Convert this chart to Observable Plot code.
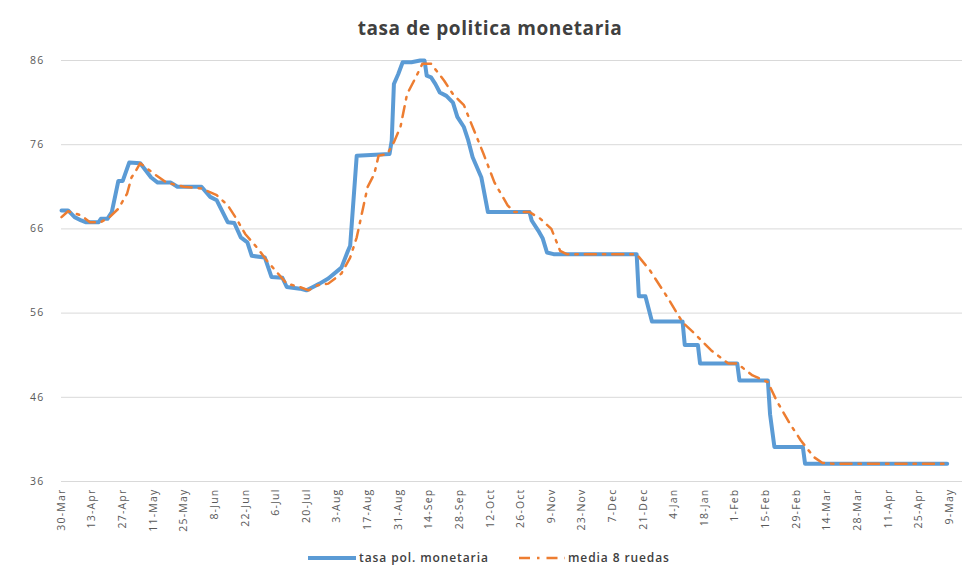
<!DOCTYPE html>
<html>
<head>
<meta charset="utf-8">
<script src="https://cdn.jsdelivr.net/npm/d3@7"></script>
<script src="https://cdn.jsdelivr.net/npm/@observablehq/plot@0.6"></script>
<style>
  html, body { margin: 0; padding: 0; background: #ffffff; }
  body { width: 980px; height: 584px; position: relative; overflow: hidden; font-family: "Open Sans", "Liberation Sans", Arial, sans-serif; }
  #title { position: absolute; left: 0; top: 0; width: 980px; height: 56px; line-height: 56px; text-align: center; font-size: 19px; letter-spacing: 0.6px; font-weight: bold; color: #404040; }
  #chart { position: absolute; left: 0; top: 45px; }
  #legend { position: absolute; left: 0; top: 548px; width: 980px; height: 20px; font-size: 12px; letter-spacing: 0.9px; font-weight: 600; color: #404040; }
  .item { position: absolute; top: 0; height: 20px; line-height: 20px; display: flex; align-items: center; }
  .item svg { margin-right: 3px; }
</style>
</head>
<body>
<div id="title">tasa de politica monetaria</div>
<div id="chart"></div>
<div id="legend"></div>
<script>
// ---- data ----
const seriesNames = ["tasa pol. monetaria", "media 8 ruedas"];

const tasaDates = ["2019-03-30","2019-04-02","2019-04-05","2019-04-08","2019-04-10","2019-04-16","2019-04-17","2019-04-20","2019-04-22","2019-04-25","2019-04-27","2019-04-30","2019-05-05","2019-05-10","2019-05-13","2019-05-19","2019-05-22","2019-06-02","2019-06-06","2019-06-09","2019-06-14","2019-06-17","2019-06-20","2019-06-23","2019-06-25","2019-07-01","2019-07-04","2019-07-09","2019-07-11","2019-07-17","2019-07-20","2019-07-23","2019-07-26","2019-07-30","2019-08-05","2019-08-08","2019-08-09","2019-08-12","2019-08-27","2019-08-28","2019-08-29","2019-08-31","2019-09-02","2019-09-06","2019-09-10","2019-09-12","2019-09-13","2019-09-15","2019-09-17","2019-09-19","2019-09-22","2019-09-25","2019-09-27","2019-09-30","2019-10-02","2019-10-04","2019-10-08","2019-10-11","2019-10-30","2019-10-31","2019-11-03","2019-11-05","2019-11-07","2019-11-10","2019-12-18","2019-12-19","2019-12-22","2019-12-25","2020-01-08","2020-01-09","2020-01-15","2020-01-16","2020-02-02","2020-02-03","2020-02-16","2020-02-17","2020-02-19","2020-03-03","2020-03-04","2020-05-08"];
const tasaValues = [68.2,68.2,67.4,67.0,66.8,66.8,67.2,67.2,68.0,71.7,71.7,73.9,73.8,72.1,71.5,71.5,71.0,71.0,69.8,69.4,66.8,66.7,65.0,64.4,62.8,62.6,60.3,60.2,59.1,58.9,58.7,59.1,59.5,60.1,61.4,63.4,64.0,74.7,74.9,76.5,83.2,84.4,85.8,85.8,86.0,86.0,84.2,84.0,83.2,82.2,81.8,81.0,79.3,78.1,76.5,74.5,72.1,68.0,68.0,67.0,65.8,64.9,63.2,63.0,63.0,58.0,58.0,55.0,55.0,52.2,52.2,50.0,50.0,48.0,48.0,44.0,40.1,40.1,38.1,38.1];

const mediaDates = ["2019-03-30","2019-04-02","2019-04-08","2019-04-12","2019-04-17","2019-04-21","2019-04-25","2019-04-29","2019-05-01","2019-05-03","2019-05-05","2019-05-11","2019-05-17","2019-05-25","2019-06-02","2019-06-09","2019-06-14","2019-06-18","2019-06-22","2019-06-28","2019-07-02","2019-07-07","2019-07-11","2019-07-17","2019-07-21","2019-07-25","2019-07-30","2019-08-05","2019-08-09","2019-08-12","2019-08-15","2019-08-17","2019-08-20","2019-08-22","2019-08-26","2019-08-29","2019-09-01","2019-09-04","2019-09-08","2019-09-11","2019-09-15","2019-09-21","2019-09-25","2019-09-30","2019-10-04","2019-10-09","2019-10-14","2019-10-20","2019-10-23","2019-10-30","2019-11-04","2019-11-09","2019-11-13","2019-11-16","2019-12-18","2019-12-24","2020-01-01","2020-01-08","2020-01-13","2020-01-21","2020-01-29","2020-02-02","2020-02-09","2020-02-16","2020-02-20","2020-02-26","2020-03-02","2020-03-08","2020-03-12","2020-03-17","2020-05-08"];
const mediaValues = [67.4,68.1,67.6,66.8,66.8,67.4,68.4,70.2,72.1,72.9,73.8,72.6,71.5,71.0,70.8,70.0,68.8,67.2,65.4,63.6,62.2,60.7,59.5,59.1,58.7,59.3,59.5,60.7,62.6,65.0,68.6,71.0,72.5,74.7,74.9,76.3,78.1,82.0,84.0,85.6,85.6,83.6,82.0,80.7,78.1,74.9,71.5,68.8,68.0,68.0,67.2,66.0,63.4,63.0,63.0,61.1,57.9,54.9,53.7,51.6,50.0,50.0,48.6,47.8,45.6,42.9,40.9,38.9,38.2,38.1,38.1];

const xTickDates = ["2019-03-30","2019-04-13","2019-04-27","2019-05-11","2019-05-25","2019-06-08","2019-06-22","2019-07-06","2019-07-20","2019-08-03","2019-08-17","2019-08-31","2019-09-14","2019-09-28","2019-10-12","2019-10-26","2019-11-09","2019-11-23","2019-12-07","2019-12-21","2020-01-04","2020-01-18","2020-02-01","2020-02-15","2020-02-29","2020-03-14","2020-03-28","2020-04-11","2020-04-25","2020-05-09"];
const yTicks = [36, 46, 56, 66, 76, 86];
const xDomain = ["2019-03-30", "2020-05-15"];

const colors = ["#5B9BD5", "#ED7D31"];

// ---- build tables ----
const parse = d3.utcParse("%Y-%m-%d");
const tasa = tasaDates.map((d, i) => ({date: parse(d), value: tasaValues[i]}));
const media = mediaDates.map((d, i) => ({date: parse(d), value: mediaValues[i]}));
const xTicks = xTickDates.map(parse);
const fmt = d3.utcFormat("%-d-%b");

const chart = Plot.plot({
  width: 980,
  height: 496,
  marginLeft: 61,
  marginRight: 18,
  marginTop: 15,
  marginBottom: 60,
  style: {fontFamily: "'Open Sans', 'Liberation Sans', Arial, sans-serif", fontSize: "10.5px", letterSpacing: "1.2px", color: "#595959", background: "transparent"},
  x: {type: "utc", domain: xDomain.map(parse)},
  y: {domain: [36, 86]},
  marks: [
    Plot.gridY(yTicks, {stroke: "#d9d9d9", strokeOpacity: 1, strokeWidth: 1}),
    Plot.axisY(yTicks, {tickSize: 0, tickPadding: 17, label: null, fill: "#595959", fontSize: 10.5}),
    Plot.axisX(xTicks, {tickSize: 0, tickPadding: 7, tickRotate: -90, tickFormat: fmt, label: null, fill: "#595959", fontSize: 10.5}),
    Plot.line(tasa, {x: "date", y: "value", stroke: colors[0], strokeWidth: 4, strokeLinejoin: "round", strokeLinecap: "round"}),
    Plot.line(media, {x: "date", y: "value", stroke: colors[1], strokeWidth: 2.5, strokeDasharray: "11,7,2.5,7"})
  ]
});
document.getElementById("chart").appendChild(chart);

// ---- legend ----
const legend = document.getElementById("legend");
const items = [
  {name: seriesNames[0], color: colors[0], left: 308, width: 48, sw: 4, dash: null},
  {name: seriesNames[1], color: colors[1], left: 519, width: 46, sw: 2.5, dash: "11,7,2.5,7"}
];
items.forEach(it => {
  const div = document.createElement("div");
  div.className = "item";
  div.style.left = it.left + "px";
  div.innerHTML = `<svg width="${it.width}" height="10"><line x1="0" x2="${it.width}" y1="5" y2="5" stroke="${it.color}" stroke-width="${it.sw}" ${it.dash ? `stroke-dasharray="${it.dash}"` : ""}/></svg><span>${it.name}</span>`;
  legend.appendChild(div);
});
</script>
</body>
</html>
